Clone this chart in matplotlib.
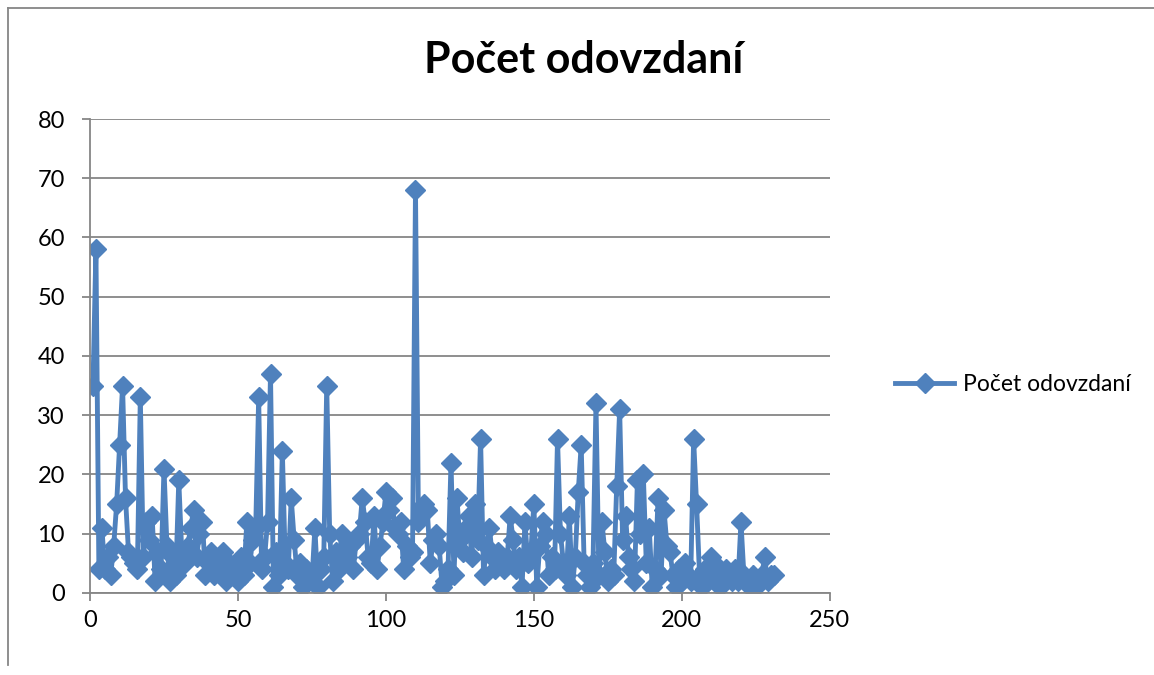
import numpy as np
import matplotlib.pyplot as plt
from matplotlib.lines import Line2D

plt.rcParams['font.family'] = ['Lato', 'DejaVu Sans']

# hodnoty odčítané z grafu (1..231)
hodnoty = [
    35, 58, 4, 11, 4, 6, 3, 8, 15, 25,
    35, 16, 7, 6, 5, 4, 33, 6, 12, 9,
    13, 2, 7, 4, 21, 8, 2, 6, 3, 19,
    7, 5, 8, 11, 14, 6, 10, 12, 3, 5,
    7, 3, 4, 6, 7, 2, 5, 3, 4, 2,
    6, 3, 12, 5, 9, 11, 33, 4, 6, 12,
    37, 1, 7, 3, 24, 5, 4, 16, 9, 3,
    5, 1, 4, 3, 2, 11, 1, 4, 6, 35,
    10, 2, 7, 4, 10, 5, 6, 8, 4, 9,
    10, 16, 12, 6, 5, 13, 4, 8, 12, 17,
    14, 16, 11, 10, 12, 4, 8, 6, 7, 68,
    12, 14, 15, 14, 5, 9, 10, 8, 1, 2,
    4, 22, 3, 16, 9, 7, 11, 13, 6, 15,
    9, 26, 3, 8, 11, 6, 4, 7, 5, 4,
    6, 13, 9, 4, 6, 1, 12, 5, 7, 15,
    1, 8, 12, 10, 3, 6, 4, 26, 10, 5,
    3, 13, 1, 6, 17, 25, 5, 3, 1, 5,
    32, 3, 12, 7, 2, 4, 3, 18, 31, 9,
    13, 6, 4, 2, 19, 10, 20, 5, 11, 1,
    4, 16, 3, 14, 8, 7, 3, 1, 4, 2,
    5, 3, 2, 26, 15, 3, 1, 4, 2, 6,
    5, 3, 1, 2, 4, 3, 2, 4, 2, 12,
    3, 2, 1, 3, 1, 2, 3, 6, 2, 3,
    3,
]
poradie = np.arange(1, len(hodnoty) + 1)

fig = plt.figure(figsize=(11.54, 6.75), dpi=100)
ax = fig.add_axes([0.078, 0.1215, 0.641, 0.7022])

ax.plot(poradie, hodnoty, color='#4F81BD', lw=3.5, marker='D', ms=10.5,
        label='Počet odovzdaní', solid_joinstyle='miter')

ax.set_xlim(0, 250)
ax.set_ylim(0, 80)
ax.set_xticks(range(0, 251, 50))
ax.set_yticks(range(0, 81, 10))
ax.yaxis.grid(True, color='#868686', lw=1.3)
ax.set_axisbelow(True)
for s in ['top', 'right']:
    ax.spines[s].set_visible(False)
for s in ['left', 'bottom']:
    ax.spines[s].set_color('#868686')
    ax.spines[s].set_linewidth(1.3)
ax.tick_params(axis='both', colors='#868686', labelcolor='black',
               labelsize=17, length=6, width=1.3)
ax.tick_params(axis='y', pad=12)
ax.tick_params(axis='x', pad=6)

ax.set_title('Počet odovzdaní', fontsize=31, fontweight='bold', x=0.667, pad=33)

ax.legend(loc='center left', bbox_to_anchor=(1.06, 0.44), frameon=False,
          fontsize=16.5, handlelength=2.6, handletextpad=0.4)

# rám grafu
fig.add_artist(Line2D([0.007, 0.007], [0.015, 0.988], color='#868686', lw=1.3))
fig.add_artist(Line2D([0.007, 1.0], [0.988, 0.988], color='#868686', lw=1.3))

plt.savefig('out.png')
